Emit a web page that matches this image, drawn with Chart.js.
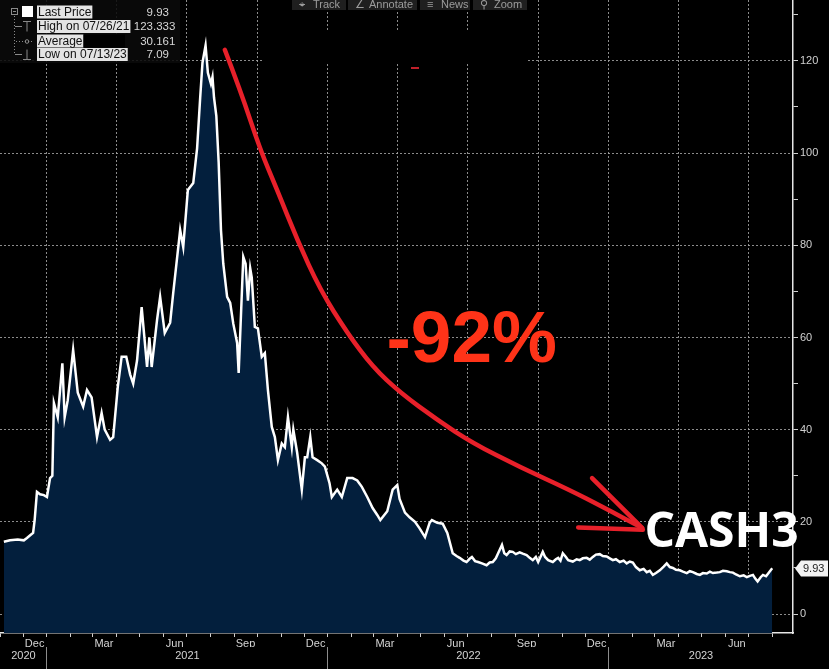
<!DOCTYPE html>
<html>
<head>
<meta charset="utf-8">
<script src="https://cdn.jsdelivr.net/npm/chart.js@4.4.1/dist/chart.umd.min.js"></script>
<style>
html, body { margin: 0; padding: 0; background: #000; }
#wrap { width: 829px; height: 669px; position: relative; }
</style>
</head>
<body>
<div id="wrap"><canvas id="js--chart"></canvas></div>
<script>
// CASH3 price
const dates = [
  "2020-11-06","2020-11-14","2020-11-24","2020-12-02","2020-12-06","2020-12-11","2020-12-14","2020-12-16","2020-12-19","2020-12-23","2020-12-28",
  "2021-01-01","2021-01-05","2021-01-08","2021-01-10","2021-01-15","2021-01-21","2021-01-24","2021-01-28",
  "2021-02-04","2021-02-10","2021-02-17","2021-02-22","2021-02-28",
  "2021-03-07","2021-03-13","2021-03-17","2021-03-24","2021-03-28",
  "2021-04-03","2021-04-08","2021-04-14","2021-04-19","2021-04-23","2021-04-28",
  "2021-05-04","2021-05-11","2021-05-14","2021-05-17","2021-05-24","2021-05-28",
  "2021-06-03","2021-06-10","2021-06-14","2021-06-23","2021-06-27",
  "2021-07-03","2021-07-10","2021-07-15","2021-07-19","2021-07-22","2021-07-26","2021-07-29",
  "2021-08-02","2021-08-04","2021-08-06","2021-08-09","2021-08-12","2021-08-15","2021-08-18","2021-08-23","2021-08-27","2021-08-31",
  "2021-09-05","2021-09-07","2021-09-13","2021-09-16","2021-09-19","2021-09-22","2021-09-24","2021-09-28",
  "2021-10-02","2021-10-07","2021-10-11","2021-10-15","2021-10-20","2021-10-24","2021-10-28",
  "2021-11-02","2021-11-06","2021-11-10","2021-11-15","2021-11-17","2021-11-22","2021-11-28",
  "2021-12-02","2021-12-05","2021-12-09","2021-12-12","2021-12-18","2021-12-24","2021-12-28",
  "2022-01-03","2022-01-06","2022-01-13","2022-01-19","2022-01-26",
  "2022-02-02","2022-02-08","2022-02-14","2022-02-21","2022-02-28",
  "2022-03-06","2022-03-10","2022-03-19","2022-03-26",
  "2022-04-01","2022-04-04","2022-04-11","2022-04-17","2022-04-24","2022-04-30",
  "2022-05-07","2022-05-13","2022-05-16","2022-05-23","2022-05-30",
  "2022-06-05","2022-06-12","2022-06-17","2022-06-21","2022-06-26","2022-06-30",
  "2022-07-04","2022-07-07","2022-07-11","2022-07-15","2022-07-20","2022-07-26","2022-07-30",
  "2022-08-03","2022-08-07","2022-08-10","2022-08-15","2022-08-18","2022-08-21","2022-08-25","2022-08-29",
  "2022-09-02","2022-09-07","2022-09-11","2022-09-16","2022-09-20","2022-09-24","2022-09-28",
  "2022-10-01","2022-10-07","2022-10-10","2022-10-14","2022-10-20","2022-10-24","2022-10-27","2022-10-30",
  "2022-11-02","2022-11-06","2022-11-09","2022-11-15","2022-11-20","2022-11-24","2022-11-28",
  "2022-12-03","2022-12-07","2022-12-11","2022-12-15","2022-12-20","2022-12-24","2022-12-29",
  "2023-01-02","2023-01-06","2023-01-10","2023-01-15","2023-01-20","2023-01-24","2023-01-28",
  "2023-02-01","2023-02-05","2023-02-10","2023-02-15","2023-02-19","2023-02-23","2023-02-27",
  "2023-03-03","2023-03-08","2023-03-13","2023-03-17","2023-03-21","2023-03-25","2023-03-29",
  "2023-04-03","2023-04-07","2023-04-12","2023-04-16","2023-04-20","2023-04-25","2023-04-29",
  "2023-05-03","2023-05-08","2023-05-12","2023-05-16","2023-05-21","2023-05-25","2023-05-29",
  "2023-06-03","2023-06-07","2023-06-11","2023-06-15","2023-06-20","2023-06-25","2023-06-29",
  "2023-07-03","2023-07-07","2023-07-10","2023-07-13","2023-07-17","2023-07-20","2023-07-24","2023-07-28","2023-08-01"
];
const prices = [
  15.7,16.0,16.2,16.0,16.5,17.2,17.6,20.4,26.5,26.0,25.8,
  25.4,29.5,30.0,45.8,42.7,54.4,42.7,46.4,
  57.3,48.0,45.0,48.6,47.0,
  38.4,43.6,40.0,37.8,38.4,
  49.3,55.8,55.8,52.0,50.0,55.0,
  66.6,53.6,60.0,53.6,63.8,68.8,
  61.0,63.2,69.7,83.3,79.6,
  92.0,93.5,101.0,112.0,119.6,123.333,117.4,
  115.0,116.5,112.0,108.0,98.0,83.3,76.0,68.8,67.5,63.0,
  58.8,52.3,77.5,76.0,68.0,75.0,73.0,62.3,
  62.0,55.8,56.6,48.6,40.6,38.4,33.4,
  37.0,36.2,42.7,36.2,40.0,35.0,27.0,
  34.0,34.0,38.4,34.0,33.4,32.7,32.0,
  28.4,25.4,27.0,25.4,29.5,
  29.5,29.0,27.6,25.4,23.0,
  21.5,20.4,22.3,27.0,
  28.0,25.0,22.0,21.0,20.0,18.6,
  16.7,19.8,20.4,19.8,19.6,
  17.6,13.2,12.6,12.2,11.6,11.3,
  12.0,12.4,11.5,11.3,11.0,10.6,11.2,
  11.3,12.1,13.2,15.0,13.2,12.8,13.6,13.5,
  13.0,13.4,13.1,12.8,12.2,11.7,12.4,
  11.3,13.5,12.4,11.7,11.3,11.9,12.2,11.6,
  13.2,12.4,11.7,11.4,11.9,11.7,12.1,
  12.2,11.8,12.4,12.9,13.0,12.6,12.5,
  12.1,11.7,11.9,11.3,11.6,11.0,11.4,
  11.2,10.2,9.5,9.8,9.1,9.4,8.5,
  8.9,9.5,10.3,11.0,10.2,10.0,9.6,
  9.5,9.2,8.9,9.3,9.1,8.7,8.5,
  8.9,8.8,9.2,8.9,9.0,9.1,9.4,
  9.3,9.1,9.0,8.6,8.2,8.4,8.0,
  8.3,8.5,7.7,7.09,8.0,8.5,8.2,9.1,9.93
];

const monthNames = ["Jan","Feb","Mar","Apr","May","Jun","Jul","Aug","Sep","Oct","Nov","Dec"];
const labeledMonths = ["Dec","Mar","Jun","Sep"];
const gridMonths = ["Jan","Apr","Jul","Oct"];
const yearLabels = ["2020","2021","2022","2023"];
const yMajorTicks = [0,20,40,60,80,100,120];
const yMinorTicks = [10,30,50,70,90,110,130];

const legendLabels = ["Last Price","High on 07/26/21","Average","Low on 07/13/23"];
const legendValues = ["9.93","123.333","30.161","7.09"];

const startDate = Date.parse("2020-11-01");
function toDay(s){ return (Date.parse(s) - startDate) / 86400000; }

const xMin = 0, xMax = 1030;
const yMin = -4.1, yMax = 133.2;

// month ticks from Nov 2020 to Aug 2023
const monthTicks = [];
for (let k = 2020 * 12 + 10; k <= 2023 * 12 + 7; k++) {
  const yr = Math.floor(k / 12), m = k % 12;
  monthTicks.push({ value: (Date.UTC(yr, m, 1) - startDate) / 86400000, name: monthNames[m] });
}

// year row: labels centred on the visible part of each year, lines at year boundaries
const yearTicks = [];
yearLabels.forEach(function(yr, i){
  const from = Math.max(xMin, toDay(yr + "-01-01"));
  const to = Math.min(xMax, toDay((+yr + 1) + "-01-01"));
  yearTicks.push({ value: (from + to) / 2, label: yr, sep: false });
  if (i > 0) yearTicks.push({ value: toDay(yr + "-01-01"), label: "", sep: true });
});
yearTicks.sort(function(a, b){ return a.value - b.value; });

const points = dates.map(function(d, i){ return { x: toDay(d), y: prices[i] }; });

const gridColor = "rgba(175,175,175,0.8)";
const axisFont = { family: "Liberation Sans", size: 11 };

const overlay = {
  id: "overlay",
  afterDraw: function(chart){
    const ctx = chart.ctx;
    const xs = chart.scales.x, ys = chart.scales.y;
    const px = function(d){ return xs.getPixelForValue(d); };
    const py = function(v){ return ys.getPixelForValue(v); };
    ctx.save();

    // hidden title area
    ctx.fillStyle = "#000";
    ctx.fillRect(262, 31, 265, 32);
    ctx.fillStyle = "#c0202a";
    ctx.fillRect(411, 67, 8, 2);

    // toolbar
    const tools = [["\u2316","Track",292,346],["\u2220","Annotate",348,417],["\u2261","News",420,470],["\u26B2","Zoom",473,527]];
    ctx.font = "11px 'Liberation Sans'";
    ctx.textBaseline = "alphabetic";
    ctx.textAlign = "left";
    tools.forEach(function(t){
      ctx.fillStyle = "#1f1f1f";
      ctx.fillRect(t[2], 0, t[3] - t[2], 10);
      ctx.fillStyle = "#9c9c9c";
      ctx.fillText(t[0], t[2] + 7, 8);
      ctx.fillText(t[1], t[2] + 21, 8);
    });

    // legend box
    ctx.fillStyle = "rgba(10,10,10,0.88)";
    ctx.fillRect(0, 0, 180, 63);
    const rowY = [12, 26.5, 41, 54.5];
    ctx.textBaseline = "middle";
    legendLabels.forEach(function(lab, i){
      ctx.font = "12px 'Liberation Sans'";
      const w = ctx.measureText(lab).width;
      ctx.fillStyle = "#e4e4e4";
      ctx.fillRect(37, rowY[i] - 6.5, w + 2, 13);
      ctx.fillStyle = "#111";
      ctx.textAlign = "left";
      ctx.fillText(lab, 38, rowY[i] + 0.5);
      if (lab === "Average") {
        ctx.fillStyle = "#000";
        ctx.fillRect(39 + w, rowY[i] - 6.5, 125 - (39 + w), 13);
      }
      const parts = legendValues[i].split(".");
      ctx.font = "11.5px 'Liberation Sans'";
      ctx.fillStyle = "#d8d8d8";
      ctx.textAlign = "right";
      ctx.fillText(parts[0], 153, rowY[i] + 0.5);
      ctx.textAlign = "left";
      ctx.fillText("." + parts[1], 153, rowY[i] + 0.5);
    });
    // legend tree icons
    ctx.strokeStyle = "#8a8a8a";
    ctx.lineWidth = 1;
    ctx.strokeRect(11.5, 8.5, 6, 6);
    ctx.beginPath(); ctx.moveTo(13, 11.5); ctx.lineTo(16, 11.5); ctx.stroke();
    ctx.fillStyle = "#fff";
    ctx.fillRect(22, 6, 11, 11);
    ctx.setLineDash([1, 2]);
    ctx.beginPath(); ctx.moveTo(14.5, 16); ctx.lineTo(14.5, 55); ctx.stroke();
    ctx.beginPath(); ctx.moveTo(16, 41.5); ctx.lineTo(34, 41.5); ctx.stroke();
    ctx.setLineDash([]);
    ctx.beginPath();
    ctx.moveTo(15, 26.5); ctx.lineTo(22, 26.5);
    ctx.moveTo(23, 21.5); ctx.lineTo(31, 21.5);
    ctx.moveTo(27, 21.5); ctx.lineTo(27, 31.5);
    ctx.moveTo(15, 54.5); ctx.lineTo(22, 54.5);
    ctx.moveTo(27, 49.5); ctx.lineTo(27, 59.5);
    ctx.moveTo(23, 59.5); ctx.lineTo(31, 59.5);
    ctx.stroke();
    ctx.beginPath(); ctx.arc(27, 41.5, 1.8, 0, Math.PI * 2); ctx.stroke();

    // red arrow, in data coordinates (day, price)
    const arrowDays = [292,312,338,360,386,416,451,484,520,568,614,675,740,783,834];
    const arrowVals = [122.4,113.7,100.7,92.0,81.2,70.3,61.0,53.6,48.0,42.1,37.1,31.9,26.9,23.2,18.7];
    const pts = arrowDays.map(function(d, i){ return [px(d), py(arrowVals[i])]; });
    ctx.strokeStyle = "#e8202a";
    ctx.lineWidth = 4.5;
    ctx.lineCap = "round";
    ctx.lineJoin = "round";
    ctx.beginPath();
    ctx.moveTo(pts[0][0], pts[0][1]);
    for (let i = 1; i < pts.length - 1; i++) {
      const mx = (pts[i][0] + pts[i + 1][0]) / 2, my = (pts[i][1] + pts[i + 1][1]) / 2;
      ctx.quadraticCurveTo(pts[i][0], pts[i][1], mx, my);
    }
    ctx.lineTo(pts[pts.length - 1][0], pts[pts.length - 1][1]);
    ctx.stroke();
    ctx.beginPath();
    ctx.moveTo(px(769), py(29.5)); ctx.lineTo(px(834), py(18.7));
    ctx.moveTo(px(751), py(18.8)); ctx.lineTo(px(835), py(18.3));
    ctx.stroke();

    ctx.textAlign = "left";
    ctx.textBaseline = "alphabetic";
    ctx.fillStyle = "#ff3318";
    ctx.font = "bold 73px 'Liberation Sans'";
    ctx.fillText("-92%", px(502), py(54.6));
    ctx.fillStyle = "#fff";
    ctx.font = "bold 48px 'Open Sans'";
    ctx.fillText("CASH3", px(837), py(14.5));

    // last price tag
    const last = prices[prices.length - 1];
    const ty = Math.round(py(last)) + 0.5;
    const ax = chart.chartArea.right + 2;
    ctx.fillStyle = "#f2f2f2";
    ctx.beginPath();
    ctx.moveTo(ax, ty);
    ctx.lineTo(ax + 6, ty - 8);
    ctx.lineTo(ax + 33, ty - 8);
    ctx.lineTo(ax + 33, ty + 8);
    ctx.lineTo(ax + 6, ty + 8);
    ctx.closePath();
    ctx.fill();
    ctx.fillStyle = "#222";
    ctx.font = "11px 'Liberation Sans'";
    ctx.textBaseline = "middle";
    ctx.fillText(last.toFixed(2), ax + 8, ty + 0.5);
    ctx.restore();
  }
};

const config = {
  type: "line",
  data: {
    datasets: [{
      label: "CASH3",
      data: points,
      borderColor: "#ffffff",
      borderWidth: 2.5,
      backgroundColor: "#031f3d",
      fill: "start",
      pointRadius: 0,
      tension: 0
    }]
  },
  options: {
    responsive: true,
    maintainAspectRatio: false,
    animation: false,
    layout: { padding: 0, autoPadding: false },
    plugins: { legend: { display: false }, tooltip: { enabled: false } },
    scales: {
      x: {
        type: "linear", position: "bottom", min: xMin, max: xMax, z: 1,
        afterBuildTicks: function(s){ s.ticks = monthTicks.map(function(t){ return { value: t.value }; }); },
        afterFit: function(s){ s.height = 14; s.paddingLeft = 0; s.paddingRight = 0; },
        ticks: {
          autoSkip: false, maxRotation: 0, minRotation: 0, padding: 0, labelOffset: 11.5,
          color: "#d4d4d4", font: axisFont,
          callback: function(v, i){ return labeledMonths.includes(monthTicks[i].name) ? monthTicks[i].name : ""; }
        },
        grid: {
          color: function(c){ return c.tick && gridMonths.includes(monthTicks[c.index].name) ? gridColor : "transparent"; },
          lineWidth: 1, tickLength: 4, tickColor: "#d0d0d0"
        },
        border: { display: true, color: "#e6e6e6", width: 1.5, dash: [2, 2] }
      },
      xYear: {
        type: "linear", position: "bottom", min: xMin, max: xMax, z: 1,
        afterBuildTicks: function(s){ s.ticks = yearTicks.map(function(t){ return { value: t.value }; }); },
        afterFit: function(s){ s.height = 22; s.paddingLeft = 0; s.paddingRight = 0; },
        ticks: {
          autoSkip: false, maxRotation: 0, minRotation: 0, padding: -20,
          color: "#d4d4d4", font: axisFont,
          callback: function(v, i){ return yearTicks[i].label; }
        },
        grid: {
          drawOnChartArea: false, tickLength: 22, lineWidth: 1,
          tickColor: function(c){ return c.tick && yearTicks[c.index].sep ? "#8c8c8c" : "transparent"; }
        },
        border: { display: false }
      },
      y: {
        type: "linear", position: "right", min: yMin, max: yMax, z: 1,
        afterBuildTicks: function(s){
          s.ticks = yMajorTicks.concat(yMinorTicks).sort(function(a, b){ return a - b; }).map(function(v){ return { value: v }; });
        },
        afterFit: function(s){ s.width = 36; s.paddingTop = 0; s.paddingBottom = 0; },
        ticks: {
          padding: 2, color: "#d0d0d0", font: axisFont,
          callback: function(v){ return yMajorTicks.includes(v) ? String(v) : ""; }
        },
        grid: {
          color: function(c){ return c.tick && yMajorTicks.includes(c.tick.value) ? gridColor : "transparent"; },
          lineWidth: 1, tickLength: 5, tickColor: "#d0d0d0"
        },
        border: { display: true, color: "#e6e6e6", width: 1.5, dash: [2, 2] }
      }
    }
  },
  plugins: [overlay]
};

const chart1 = new Chart(document.getElementById("js--chart"), config);
</script>
</body>
</html>
